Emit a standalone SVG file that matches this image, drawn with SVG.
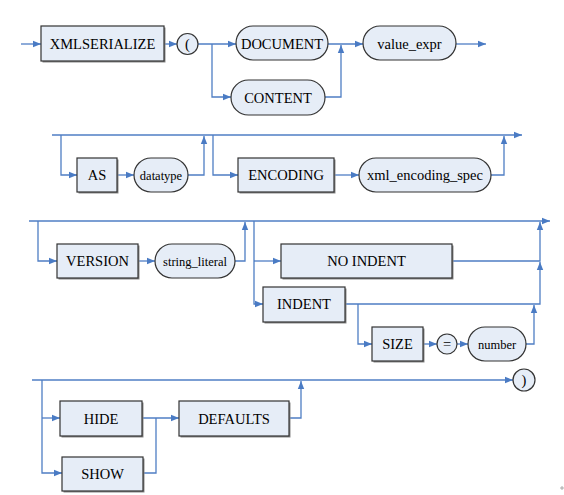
<svg xmlns="http://www.w3.org/2000/svg" width="564" height="495" viewBox="0 0 564 495">
<defs>
<marker id="ah" viewBox="0 0 8 8" refX="8" refY="4" markerWidth="8" markerHeight="8" markerUnits="userSpaceOnUse" orient="auto">
<path d="M0,0.8 L8,4 L0,7.2 Z" fill="#4A7BC4"/>
</marker>
<style>
.c{fill:none;stroke:#4F7EC4;stroke-width:1.3}
.a{marker-end:url(#ah)}
.sh{fill:#8a8a8a;stroke:none}
.b{fill:#E6EDF7;stroke:#333;stroke-width:1.2}
</style>
</defs>
<rect width="564" height="495" fill="#fff"/>
<g id="connectors">
<path class="c a" d="M21,44 H41"/>
<path class="c a" d="M164,44 H177"/>
<path class="c a" d="M198,44 H236"/>
<path class="c a" d="M212,44 V97 H231"/>
<path class="c a" d="M328,44 H363"/>
<path class="c a" d="M325,97 H341 V45"/>
<path class="c a" d="M456,44 H486"/>
<path class="c a" d="M52,135 H522"/>
<path class="c a" d="M61,135 V175 H77"/>
<path class="c a" d="M117,175 H134"/>
<path class="c a" d="M188,175 H204 V136"/>
<path class="c a" d="M213,135 V175 H238"/>
<path class="c a" d="M334,175 H359"/>
<path class="c a" d="M491,175 H504 V136"/>
<path class="c a" d="M29,221 H550"/>
<path class="c a" d="M38,221 V261 H57"/>
<path class="c a" d="M138,261 H155"/>
<path class="c a" d="M235,261 H245 V222"/>
<path class="c a" d="M254,221 V304 H263"/>
<path class="c a" d="M254,261 H281"/>
<path class="c a" d="M452,261 H540 V222"/>
<path class="c a" d="M345,304 H540 V262"/>
<path class="c a" d="M358,304 V344 H372"/>
<path class="c a" d="M423,344 H437"/>
<path class="c a" d="M457,344 H468"/>
<path class="c a" d="M526,344 H534 V305"/>
<path class="c a" d="M32,380 H513"/>
<path class="c a" d="M42,380 V473 H62"/>
<path class="c a" d="M42,418 H60"/>
<path class="c a" d="M142,418 H179"/>
<path class="c" d="M143,473 H156 V418"/>
<path class="c a" d="M289,418 H301 V381"/>
</g>
<g font-family="Liberation Serif" font-size="14.5" text-anchor="middle" fill="#000">
<g id="n-xmlserialize"><rect class="sh" x="42.5" y="27.5" width="123" height="35"/><rect class="b" x="41" y="26" width="123" height="35"/><text x="102.5" y="49">XMLSERIALIZE</text></g>
<g id="n-lparen"><circle class="b" cx="187.5" cy="44" r="10.5"/><text x="187.5" y="49">(</text></g>
<g id="n-document"><rect class="b" x="236" y="26" width="92" height="34" rx="17"/><text x="282" y="48.5">DOCUMENT</text></g>
<g id="n-content"><rect class="b" x="231" y="80" width="94" height="35" rx="17.5"/><text x="278" y="102.5">CONTENT</text></g>
<g id="n-value_expr"><rect class="b" x="363" y="26" width="93" height="34" rx="17"/><text x="409.5" y="48.5">value_expr</text></g>
<g id="n-as"><rect class="sh" x="78.5" y="159.5" width="40" height="34"/><rect class="b" x="77" y="158" width="40" height="34"/><text x="97" y="180">AS</text></g>
<g id="n-datatype"><rect class="b" x="134" y="158" width="54" height="34" rx="17"/><text font-size="12.5" x="161" y="179.5">datatype</text></g>
<g id="n-encoding"><rect class="sh" x="239.5" y="159.5" width="96" height="34"/><rect class="b" x="238" y="158" width="96" height="34"/><text x="286" y="180">ENCODING</text></g>
<g id="n-xml_encoding_spec"><rect class="b" x="359" y="158" width="132" height="34" rx="17"/><text x="425" y="180">xml_encoding_spec</text></g>
<g id="n-version"><rect class="sh" x="58.5" y="245.5" width="81" height="34"/><rect class="b" x="57" y="244" width="81" height="34"/><text x="97.5" y="266">VERSION</text></g>
<g id="n-string_literal"><rect class="b" x="155" y="244" width="80" height="34" rx="17"/><text font-size="12.5" x="195" y="265.5">string_literal</text></g>
<g id="n-noindent"><rect class="sh" x="282.5" y="245.5" width="171" height="34"/><rect class="b" x="281" y="244" width="171" height="34"/><text x="366.5" y="266">NO INDENT</text></g>
<g id="n-indent"><rect class="sh" x="264.5" y="288.5" width="82" height="35"/><rect class="b" x="263" y="287" width="82" height="35"/><text x="304" y="309">INDENT</text></g>
<g id="n-size"><rect class="sh" x="373.5" y="328.5" width="51" height="34"/><rect class="b" x="372" y="327" width="51" height="34"/><text x="397.5" y="349">SIZE</text></g>
<g id="n-eq"><circle class="b" cx="447" cy="344" r="10"/><text x="447" y="349">=</text></g>
<g id="n-number"><rect class="b" x="468" y="327" width="58" height="34" rx="17"/><text font-size="12.5" x="497" y="348.5">number</text></g>
<g id="n-hide"><rect class="sh" x="61.5" y="402.5" width="82" height="35"/><rect class="b" x="60" y="401" width="82" height="35"/><text x="101" y="423.5">HIDE</text></g>
<g id="n-show"><rect class="sh" x="63.5" y="458.5" width="81" height="34"/><rect class="b" x="62" y="457" width="81" height="34"/><text x="102.5" y="479">SHOW</text></g>
<g id="n-defaults"><rect class="sh" x="180.5" y="402.5" width="110" height="35"/><rect class="b" x="179" y="401" width="110" height="35"/><text x="234" y="423.5">DEFAULTS</text></g>
<g id="n-rparen"><circle class="b" cx="524" cy="380" r="11"/><text x="524" y="385">)</text></g>
</g>
<path d="M560,488 H564 M562,486 V490" stroke="#999" stroke-width="0.8" fill="none"/>
</svg>
